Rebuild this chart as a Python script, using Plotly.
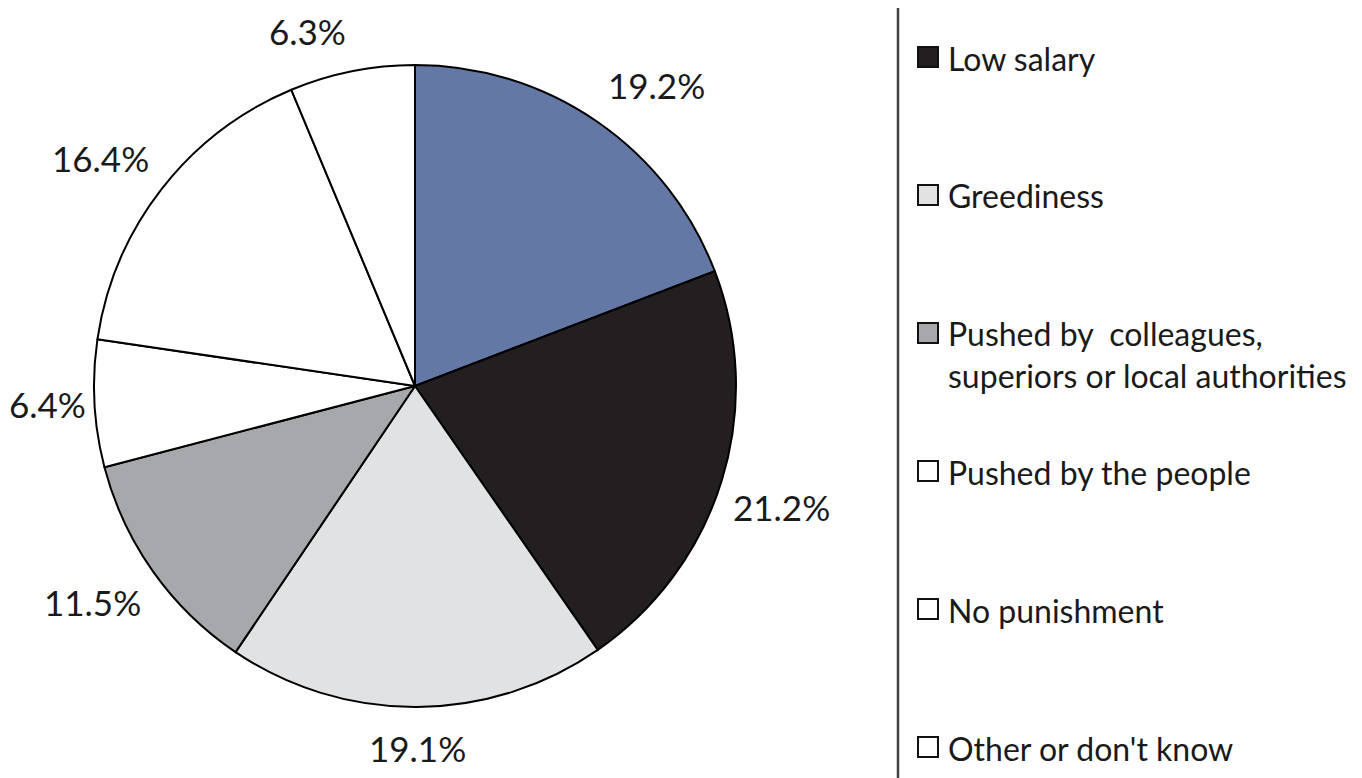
import numpy as np
import plotly.graph_objects as go

# ---- data ----
slice_labels = ["Unlabelled", "Low salary", "Greediness",
                "Pushed by colleagues, superiors or local authorities",
                "Pushed by the people", "No punishment", "Other or don't know"]
slice_values = [19.2, 21.2, 19.1, 11.5, 6.4, 16.4, 6.3]
slice_text = ["19.2%", "21.2%", "19.1%", "11.5%", "6.4%", "16.4%", "6.3%"]
slice_colors = ["#6478a6", "#231f20", "#e1e2e4", "#a7a8ac", "#ffffff", "#ffffff", "#ffffff"]

legend_labels = ["Low salary", "Greediness",
                 "Pushed by  colleagues,<br>superiors or local authorities",
                 "Pushed by the people", "No punishment", "Other or don't know"]
legend_colors = slice_colors[1:]

# ---- layout constants (screen pixels; page body has an 8px margin) ----
OFF = 8
W, H = 1362 - OFF, 778 - OFF
CX, CY, R = 415, 386, 321
FONT = "Lato"
TXT = "#1a1a1a"

def px(x):
    return (x - OFF) / W

def py(y):
    return 1 - (y - OFF) / H

fig = go.Figure()
fig.add_trace(go.Pie(
    labels=slice_labels, values=slice_values,
    sort=False, direction="clockwise", rotation=0,
    marker=dict(colors=slice_colors, line=dict(color="#000000", width=2)),
    textinfo="none", hoverinfo="label+percent", showlegend=False,
    domain=dict(x=[px(CX - R), px(CX + R)], y=[py(CY + R), py(CY - R)]),
))

# percent labels placed just outside each slice's mid-angle
vals = np.array(slice_values)
cum = np.cumsum(vals) - vals / 2
theta = cum / vals.sum() * 2 * np.pi
annotations = []
for t, txt in zip(theta, slice_text):
    s, c = np.sin(t), np.cos(t)
    gap = 6 + 12 * abs(c)
    ax = CX + (R + gap) * s
    ay = CY - (R + gap) * c
    xa = "left" if s > 0.15 else ("right" if s < -0.15 else "center")
    ya = "bottom" if c > 0.15 else ("top" if c < -0.15 else "middle")
    annotations.append(dict(
        x=px(ax), y=py(ay), xref="paper", yref="paper", text=txt,
        showarrow=False, xanchor=xa, yanchor=ya,
        font=dict(family=FONT, size=35, color=TXT),
    ))

# legend (manual, to mirror the cropped legend box)
shapes = [dict(type="line", xref="paper", yref="paper",
               x0=px(898), x1=px(898), y0=0, y1=1,
               line=dict(color="#404040", width=2.5))]
sq = 20
for i, (lab, col) in enumerate(zip(legend_labels, legend_colors)):
    yc = 57 + 138 * i
    shapes.append(dict(type="rect", xref="paper", yref="paper",
                       x0=px(918), x1=px(918 + sq), y0=py(yc + sq / 2), y1=py(yc - sq / 2),
                       fillcolor=col, line=dict(color="#111111", width=2)))
    multi = "<br>" in lab
    annotations.append(dict(
        x=px(946), y=py(yc - 21) if multi else py(yc + 1), xref="paper", yref="paper",
        text=lab, showarrow=False, xanchor="left",
        yanchor="top" if multi else "middle", align="left",
        font=dict(family=FONT, size=32, color=TXT),
    ))

fig.update_layout(
    width=W, height=H, margin=dict(l=0, r=0, t=0, b=0),
    paper_bgcolor="white", plot_bgcolor="white",
    annotations=annotations, shapes=shapes,
)
fig.write_html("out.html")
